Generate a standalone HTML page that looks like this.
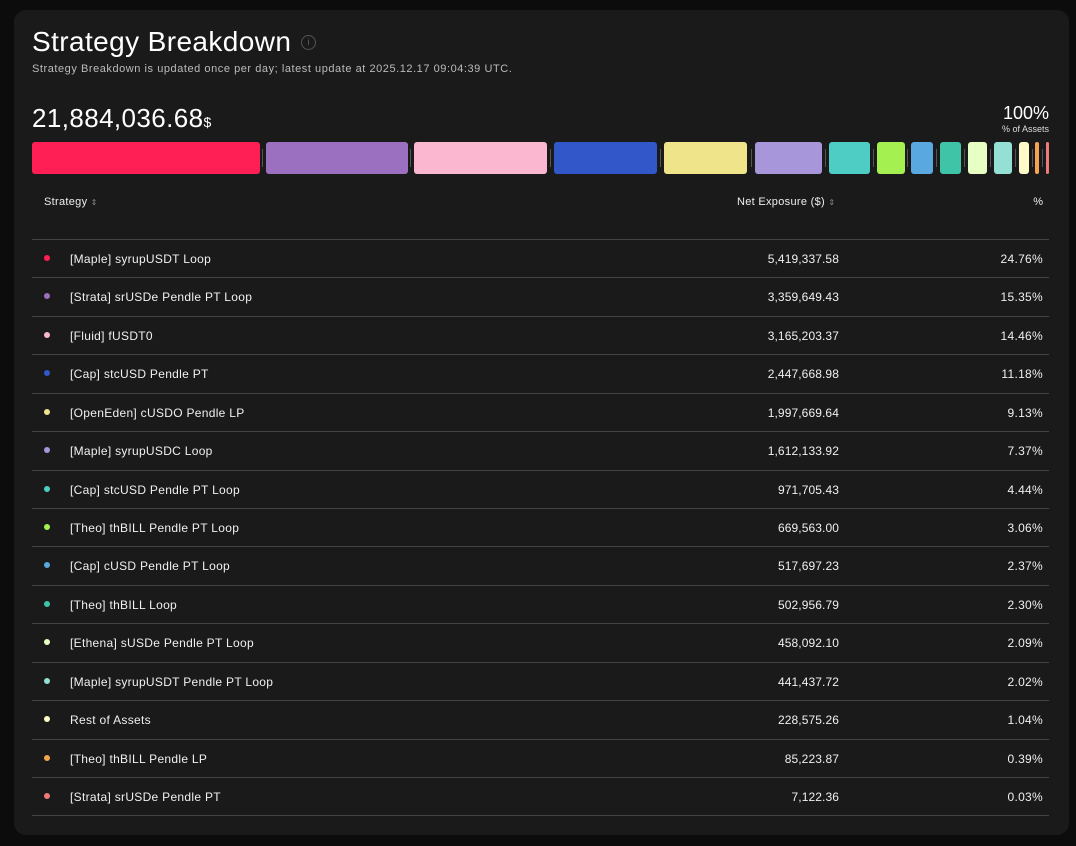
<!DOCTYPE html>
<html><head><style>
body{margin:0;width:1076px;height:846px;background:#0c0c0c;font-family:"Liberation Sans",sans-serif;color:#fff;position:relative;overflow:hidden}
.card{position:absolute;left:14px;top:10px;width:1055px;height:825px;background:#1a1a1a;border-radius:12px}
.a{position:absolute;white-space:nowrap}
.seg{position:absolute;top:142px;height:32px;border-radius:3px}
.sep{position:absolute;top:149px;height:18px;width:1px;background:#555}
.line{position:absolute;left:32px;width:1017px;height:1px;background:#444}
.row{position:absolute;left:32px;width:1017px;height:38px;font-size:12px;color:#f0f0f0;letter-spacing:0.3px}
.row .dot{position:absolute;left:12px;top:16px;width:6px;height:6px;border-radius:50%}
.row .n{position:absolute;left:38px;top:13px}
.row .v{position:absolute;right:210px;top:13px;letter-spacing:0.1px}
.row .p{position:absolute;right:6px;top:13px}
</style></head><body>
<div class="card"></div>
<div class="a" style="left:32px;top:26px;font-size:28px;letter-spacing:0.4px">Strategy Breakdown</div>
<div class="a" style="left:301px;top:35px;width:15px;height:15px;border:1.5px solid #555;border-radius:50%;box-sizing:border-box;font-size:9px;color:#666;text-align:center;line-height:12px">i</div>
<div class="a" style="left:32px;top:63px;font-size:11px;color:#bbb;letter-spacing:0.55px">Strategy Breakdown is updated once per day; latest update at 2025.12.17 09:04:39 UTC.</div>
<div class="a" style="left:32px;top:103px;font-size:26px;letter-spacing:0.4px">21,884,036.68<span style="font-size:14px">$</span></div>
<div class="a" style="right:27px;top:103px;font-size:18px">100%</div>
<div class="a" style="right:27px;top:124px;font-size:9px;color:#ddd">% of Assets</div>
<div class="seg" style="left:32px;width:228px;background:#ff1f55"></div>
<div class="seg" style="left:266px;width:142px;background:#9c70c0"></div>
<div class="seg" style="left:414px;width:133px;background:#fbb6d0"></div>
<div class="seg" style="left:554px;width:103px;background:#3157c9"></div>
<div class="seg" style="left:664px;width:83px;background:#efe48a"></div>
<div class="seg" style="left:755px;width:67px;background:#a896db"></div>
<div class="seg" style="left:829px;width:41px;background:#4ecdc4"></div>
<div class="seg" style="left:877px;width:28px;background:#a4f050"></div>
<div class="seg" style="left:911px;width:22px;background:#5aa8e0"></div>
<div class="seg" style="left:940px;width:21px;background:#40c4a8"></div>
<div class="seg" style="left:968px;width:19px;background:#e8ffc4"></div>
<div class="seg" style="left:994px;width:18px;background:#94e0d4"></div>
<div class="seg" style="left:1019px;width:10px;background:#fffbc8"></div>
<div class="seg" style="left:1035px;width:4px;background:#f4a44c"></div>
<div class="seg" style="left:1046px;width:3px;background:#ef7a7a"></div>
<div class="sep" style="left:262px"></div><div class="sep" style="left:410px"></div><div class="sep" style="left:550px"></div><div class="sep" style="left:660px"></div><div class="sep" style="left:751px"></div><div class="sep" style="left:825px"></div><div class="sep" style="left:873px"></div><div class="sep" style="left:907px"></div><div class="sep" style="left:936px"></div><div class="sep" style="left:964px"></div><div class="sep" style="left:990px"></div><div class="sep" style="left:1015px"></div><div class="sep" style="left:1032px"></div><div class="sep" style="left:1042px"></div>
<div class="a" style="left:44px;top:196px;font-size:11px;color:#eee;letter-spacing:0.3px">Strategy <span style="color:#888;font-size:8px">⇕</span></div>
<div class="a" style="left:737px;top:196px;font-size:11px;color:#eee;letter-spacing:0.3px">Net Exposure ($) <span style="color:#888;font-size:8px">⇕</span></div>
<div class="a" style="right:33px;top:196px;font-size:11px;color:#eee">%</div>
<div class="line" style="top:239px"></div>
<div id="rows"></div>
<script>
var d=[["#ff1f55","[Maple] syrupUSDT Loop","5,419,337.58","24.76%"],["#9c70c0","[Strata] srUSDe Pendle PT Loop","3,359,649.43","15.35%"],["#fbb6d0","[Fluid] fUSDT0","3,165,203.37","14.46%"],["#3157c9","[Cap] stcUSD Pendle PT","2,447,668.98","11.18%"],["#efe48a","[OpenEden] cUSDO Pendle LP","1,997,669.64","9.13%"],["#a896db","[Maple] syrupUSDC Loop","1,612,133.92","7.37%"],["#4ecdc4","[Cap] stcUSD Pendle PT Loop","971,705.43","4.44%"],["#a4f050","[Theo] thBILL Pendle PT Loop","669,563.00","3.06%"],["#5aa8e0","[Cap] cUSD Pendle PT Loop","517,697.23","2.37%"],["#40c4a8","[Theo] thBILL Loop","502,956.79","2.30%"],["#e8ffc4","[Ethena] sUSDe Pendle PT Loop","458,092.10","2.09%"],["#94e0d4","[Maple] syrupUSDT Pendle PT Loop","441,437.72","2.02%"],["#fffbc8","Rest of Assets","228,575.26","1.04%"],["#f4a44c","[Theo] thBILL Pendle LP","85,223.87","0.39%"],["#ef7a7a","[Strata] srUSDe Pendle PT","7,122.36","0.03%"]];
var h="";d.forEach(function(r,i){var t=239+i*38.43;h+='<div class="row" style="top:'+t+'px"><div class="dot" style="background:'+r[0]+'"></div><div class="n">'+r[1]+'</div><div class="v">'+r[2]+'</div><div class="p">'+r[3]+'</div></div><div class="line" style="top:'+(t+38.43)+'px"></div>';});
document.getElementById("rows").innerHTML=h;
</script>
</body></html>
